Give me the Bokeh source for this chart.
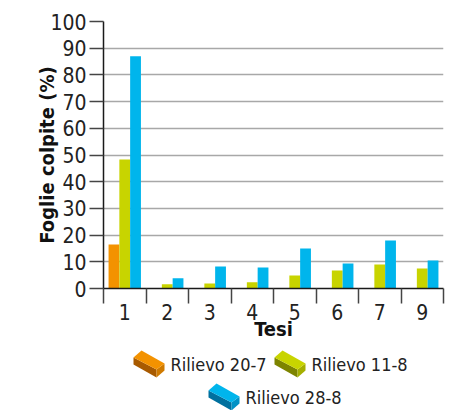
from bokeh.plotting import figure
from bokeh.layouts import column
from bokeh.models import Range1d, FixedTicker, ColumnDataSource
from bokeh.core.properties import value
from bokeh.embed import file_html
from bokeh.resources import INLINE

# Treatments (Tesi) and leaf damage (%) at three survey dates
tesi = ["1", "2", "3", "4", "5", "6", "7", "9"]
rilievo_20_7 = [16.5, 0, 0, 0, 0, 0, 0, 0]
rilievo_11_8 = [48.3, 1.6, 1.9, 2.3, 4.9, 6.7, 9.0, 7.5]
rilievo_28_8 = [87.0, 3.8, 8.2, 7.9, 15.0, 9.4, 18.0, 10.5]
series_names = ["Rilievo 20-7", "Rilievo 11-8", "Rilievo 28-8"]
y_ticks = list(range(0, 101, 10))

FONT = "DejaVu Sans Condensed, Liberation Sans Narrow, Roboto Condensed, Noto Sans, sans-serif"
# (front, left side, right side) shades for each series
palette = [
    ("#f39200", "#a85a00", "#cf7a00"),
    ("#c8d400", "#7d8400", "#a5af00"),
    ("#00b5ec", "#00709e", "#0092c6"),
]

p = figure(width=452, height=345, output_backend="svg", toolbar_location=None,
           x_range=Range1d(0, len(tesi)), y_range=Range1d(0, 100),
           min_border_left=103, min_border_right=9, min_border_top=21,
           min_border_bottom=57)
p.outline_line_color = None
p.xgrid.grid_line_color = None
p.ygrid.ticker = FixedTicker(ticks=y_ticks)
p.ygrid.grid_line_color = "#a8a8a8"
p.ygrid.grid_line_width = 1.5

bar_w = 0.254
centers = [i + 0.5 for i in range(len(tesi))]
for k, vals in enumerate([rilievo_20_7, rilievo_11_8, rilievo_28_8]):
    src = ColumnDataSource(dict(x=[c + (k - 1) * bar_w for c in centers], top=vals))
    p.vbar(x="x", top="top", bottom=0, width=bar_w, source=src,
           fill_color=palette[k][0], line_color=None)

# y axis
ya = p.yaxis[0]
ya.ticker = FixedTicker(ticks=y_ticks)
ya.axis_line_color = "#1a1a1a"
ya.axis_line_width = 1.5
ya.major_tick_line_color = "#444444"
ya.major_tick_line_width = 1.5
ya.major_tick_out = 14
ya.major_tick_in = 0
ya.minor_tick_line_color = None
ya.major_label_standoff = 3
ya.major_label_text_font = FONT
ya.major_label_text_font_size = "21px"
ya.major_label_text_color = "#222222"
ya.axis_label = "Foglie colpite (%)"
ya.axis_label_text_font = FONT
ya.axis_label_text_font_style = "bold"
ya.axis_label_text_font_size = "20px"
ya.axis_label_text_color = "#111111"
ya.axis_label_standoff = -12

# x axis: labels centred in each slot, ticks on the slot boundaries
xa = p.xaxis[0]
xa.ticker = FixedTicker(ticks=centers, minor_ticks=list(range(len(tesi) + 1)))
xa.major_label_overrides = {c: t for c, t in zip(centers, tesi)}
xa.axis_line_color = "#1a1a1a"
xa.axis_line_width = 1.5
xa.major_tick_line_color = None
xa.major_tick_out = 2
xa.minor_tick_line_color = "#444444"
xa.minor_tick_line_width = 1.5
xa.minor_tick_out = 15
xa.minor_tick_in = 0
xa.major_label_standoff = 0
xa.major_label_text_font = FONT
xa.major_label_text_font_size = "21px"
xa.major_label_text_color = "#222222"
xa.axis_label = "Tesi"
xa.axis_label_text_font = FONT
xa.axis_label_text_font_style = "bold"
xa.axis_label_text_font_size = "20px"
xa.axis_label_text_color = "#111111"
xa.axis_label_standoff = -6

# Legend with small 3D brick swatches; its frame lines up with the chart frame,
# so the x range is expressed in page pixels
leg = figure(width=452, height=65, output_backend="svg", toolbar_location=None,
             x_range=Range1d(103, 443), y_range=Range1d(65, 0),
             min_border_left=103, min_border_right=9, min_border_top=0,
             min_border_bottom=0, outline_line_color=None)
leg.axis.visible = False
leg.grid.visible = False

def brick(x0, y0, colors):
    front, left, right = colors
    top = ([x0, x0 + 8, x0 + 31, x0 + 23], [y0 + 7, y0, y0 + 13, y0 + 19])
    lside = ([x0, x0 + 23, x0 + 23, x0], [y0 + 7, y0 + 19, y0 + 27, y0 + 14])
    rside = ([x0 + 23, x0 + 31, x0 + 31, x0 + 23], [y0 + 19, y0 + 13, y0 + 20, y0 + 27])
    leg.patches([lside[0], rside[0], top[0]], [lside[1], rside[1], top[1]],
                fill_color=[left, right, front], line_color=None)

entries = [(133, 5, 170), (274, 5, 311), (208, 38, 245)]
for (bx, by, tx), name, cols in zip(entries, series_names, palette):
    brick(bx, by, cols)
    leg.text(x=[tx], y=[by + 14], text=[name], text_font=value(FONT),
             text_font_size="18px", text_baseline="middle", text_color="#222222")

layout = column(p, leg, spacing=0)
open("out.html", "w").write(file_html(layout, INLINE))
